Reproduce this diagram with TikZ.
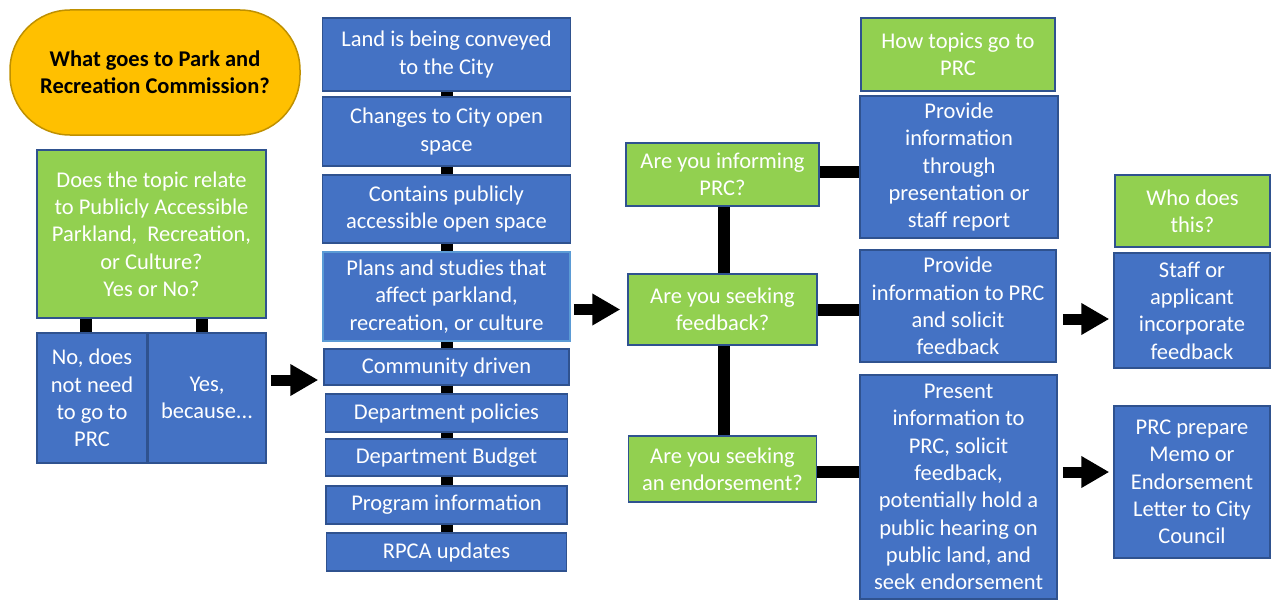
\documentclass[tikz,border=0pt]{standalone}
\usepackage{fontspec}
\setmainfont{Carlito}
\usetikzlibrary{arrows.meta}
\definecolor{boxblue}{HTML}{4472C4}
\definecolor{boxedge}{HTML}{2F528F}
\definecolor{boxgreen}{HTML}{92D050}
\definecolor{lightedge}{HTML}{5B9BD5}
\definecolor{titlegold}{HTML}{FFC000}
\definecolor{titleedge}{HTML}{BF9000}

\begin{document}
\begin{tikzpicture}[x=1pt,y=-1pt]
    \useasboundingbox (0,0) rectangle (1274,602);

    \tikzset{bluebox/.style={fill=boxblue,draw=boxedge,line width=1.5pt,text=white,align=center,inner sep=0pt,font=\fontsize{22.5}{27.3}\selectfont}}
    \tikzset{greenbox/.style={bluebox,fill=boxgreen}}
    \tikzset{bar/.style={line width=12pt,black}}
    \tikzset{bigarrow/.style={line width=11pt,black,-{Triangle[length=28pt,width=30pt]}}}

    \node[fill=titlegold,draw=titleedge,line width=1.5pt,rounded corners=60pt,minimum width=290pt,minimum height=125pt,align=center,font=\bfseries\fontsize{22.5}{27}\selectfont] (title) at (155,72.5) {What goes to Park and\\Recreation Commission?};

    \node[greenbox,minimum width=229pt,minimum height=168pt] (topic) at (151.5,234) {Does the topic relate\\to Publicly Accessible\\Parkland,\ \ Recreation,\\or Culture?\\Yes or No?};
    \node[bluebox,minimum width=110pt,minimum height=130pt] (no) at (92,398) {No, does\\not need\\to go to\\PRC};
    \node[bluebox,minimum width=118pt,minimum height=130pt] (yes) at (207,398) {Yes,\\because...};

    \node[bluebox,minimum width=248pt,minimum height=73pt] (land) at (446.5,54.5) {Land is being conveyed\\to the City};
    \node[bluebox,minimum width=248pt,minimum height=69pt] (space) at (446.5,131.5) {Changes to City open\\space};
    \node[bluebox,minimum width=248pt,minimum height=68pt] (access) at (446.5,209) {Contains publicly\\accessible open space};
    \node[bluebox,draw=lightedge,minimum width=247pt,minimum height=89pt] (plans) at (446.5,296.5) {Plans and studies that\\affect parkland,\\recreation, or culture};
    \node[bluebox,minimum width=245pt,minimum height=36pt] (community) at (446.5,367) {Community driven};
    \node[bluebox,minimum width=242pt,minimum height=38pt] (policies) at (446.5,413) {Department policies};
    \node[bluebox,minimum width=242pt,minimum height=37pt] (budget) at (446.5,457.5) {Department Budget};
    \node[bluebox,minimum width=241pt,minimum height=38pt] (program) at (446.5,505) {Program information};
    \node[bluebox,minimum width=240pt,minimum height=38pt] (rpca) at (446.5,552) {RPCA updates};

    \node[greenbox,minimum width=193pt,minimum height=63pt] (inform) at (722.5,174.5) {Are you informing\\PRC?};
    \node[greenbox,minimum width=189pt,minimum height=71pt] (feedback) at (722.5,309.5) {Are you seeking\\feedback?};
    \node[greenbox,minimum width=188pt,minimum height=66pt] (endorse) at (722.5,469) {Are you seeking\\an endorsement?};

    \node[greenbox,minimum width=194pt,minimum height=73pt] (how) at (958,54.5) {How topics go to\\PRC};
    \node[bluebox,minimum width=198pt,minimum height=142pt] (report) at (959,167) {Provide\\information\\through\\presentation or\\staff report};
    \node[bluebox,minimum width=196pt,minimum height=112pt] (solicit) at (958,306) {Provide\\information to PRC\\and solicit\\feedback};
    \node[bluebox,minimum width=197pt,minimum height=224pt] (present) at (958.5,487) {Present\\information to\\PRC, solicit\\feedback,\\potentially hold a\\public hearing on\\public land, and\\seek endorsement};

    \node[greenbox,minimum width=155pt,minimum height=72pt] (who) at (1192.5,211) {Who does\\this?};
    \node[bluebox,minimum width=156pt,minimum height=115pt] (staff) at (1192,310.5) {Staff or\\applicant\\incorporate\\feedback};
    \node[bluebox,minimum width=156pt,minimum height=152pt] (memo) at (1192,482) {PRC prepare\\Memo or\\Endorsement\\Letter to City\\Council};

    \draw[bar] ([xshift=-6pt]no.north) -- ([xshift=-6pt]no.north |- topic.south);
    \draw[bar] ([xshift=-5pt]yes.north) -- ([xshift=-5pt]yes.north |- topic.south);

    \draw[bar] (land.south) -- (space.north);
    \draw[bar] (space.south) -- (access.north);
    \draw[bar] (access.south) -- (plans.north);
    \draw[bar] (plans.south) -- (community.north);
    \draw[bar] (community.south) -- (policies.north);
    \draw[bar] (policies.south) -- (budget.north);
    \draw[bar] (budget.south) -- (program.north);
    \draw[bar] (program.south) -- (rpca.north);

    \draw[bar] ([xshift=1.5pt]inform.south) -- ([xshift=1.5pt]feedback.north);
    \draw[bar] ([xshift=1.5pt]feedback.south) -- ([xshift=1.5pt]endorse.north);
    \draw[bar] ([yshift=2.5pt]inform.east) -- ([yshift=2.5pt]inform.east -| report.west);
    \draw[bar] (feedback.east) -- (feedback.east -| solicit.west);
    \draw[bar] ([yshift=-3pt]endorse.east) -- ([yshift=-3pt]endorse.east -| present.west);

    \draw[bigarrow,shorten <=4pt,shorten >=5pt] ([yshift=18pt]yes.east) -- ([yshift=18pt]yes.east -| community.west);
    \draw[bigarrow,shorten <=3pt,shorten >=7pt] (feedback.west -| plans.east) -- (feedback.west);
    \draw[bigarrow,shorten <=6pt,shorten >=4pt] ([yshift=-13pt]solicit.east) -- ([yshift=-13pt]solicit.east -| staff.west);
    \draw[bigarrow,shorten <=5pt,shorten >=4pt] ([yshift=15pt]present.east) -- ([yshift=15pt]present.east -| memo.west);
\end{tikzpicture}
\end{document}
